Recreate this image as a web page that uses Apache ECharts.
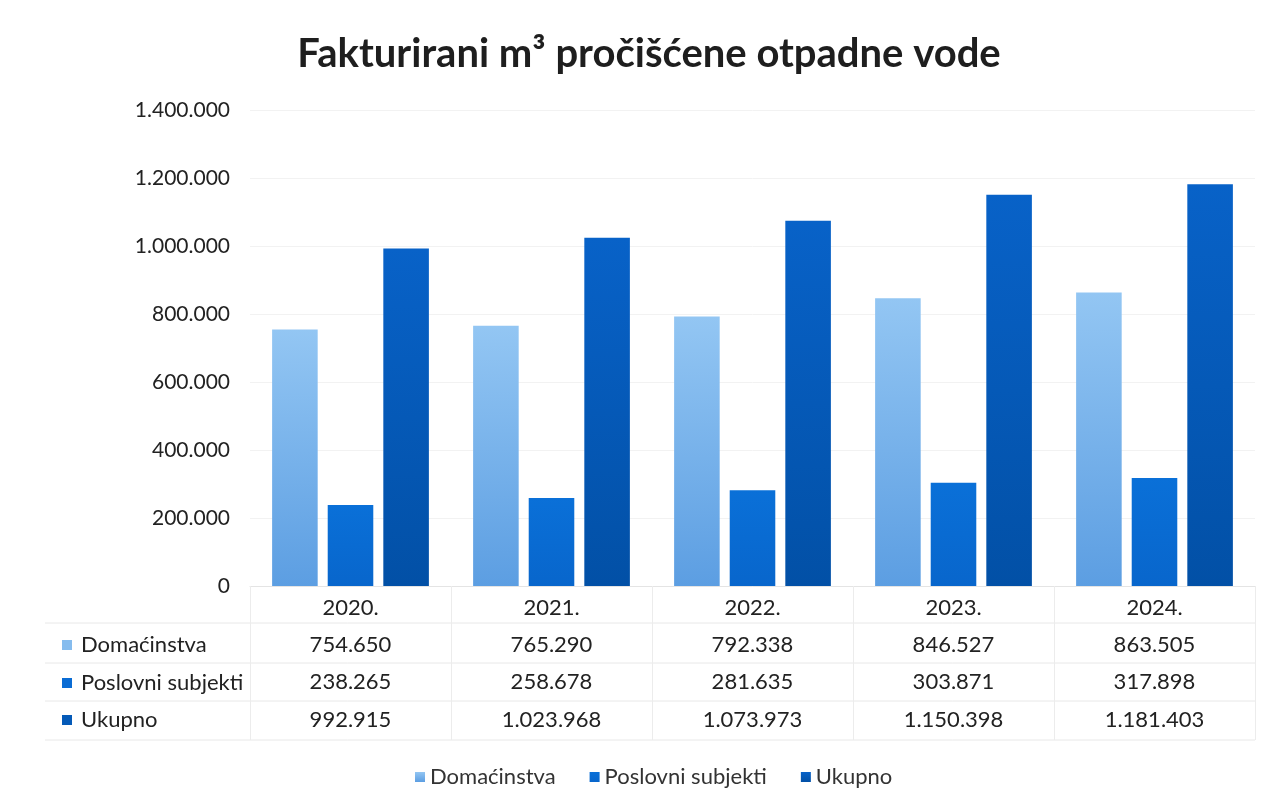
<!DOCTYPE html>
<html>
<head>
<meta charset="utf-8">
<script src="https://cdn.jsdelivr.net/npm/echarts@6/dist/echarts.min.js"></script>
<style>
  html, body { margin: 0; padding: 0; background: #fff; }
  #chart { width: 1275px; height: 809px; }
</style>
</head>
<body>
<div id="chart"></div>
<script>
  // podaci
  const years = ['2020.', '2021.', '2022.', '2023.', '2024.'];
  const domacinstva = [754650, 765290, 792338, 846527, 863505];
  const poslovni = [238265, 258678, 281635, 303871, 317898];
  const ukupno = [992915, 1023968, 1073973, 1150398, 1181403];
  const seriesNames = ['Domaćinstva', 'Poslovni subjekti', 'Ukupno'];

  const fontFam = 'Lato, "Open Sans", sans-serif';

  function fmt(v) {
    return String(v).replace(/\B(?=(\d{3})+(?!\d))/g, '.');
  }

  const colDom = new echarts.graphic.LinearGradient(0, 0, 0, 1, [
    { offset: 0, color: '#93c6f3' },
    { offset: 1, color: '#5c9ee2' }
  ]);
  const colPos = new echarts.graphic.LinearGradient(0, 0, 0, 1, [
    { offset: 0, color: '#0a70d8' },
    { offset: 1, color: '#0866cc' }
  ]);
  const colUk = new echarts.graphic.LinearGradient(0, 0, 0, 1, [
    { offset: 0, color: '#0862c8' },
    { offset: 1, color: '#0250a6' }
  ]);
  const rowColors = ['#86bcee', '#0a6cd4', '#055ab8'];

  const chart = echarts.init(document.getElementById('chart'));

  // red tablice ispod osi
  const rowY = [645, 683, 720];
  const tableGraphics = [];
  seriesNames.forEach((name, i) => {
    tableGraphics.push({
      type: 'rect',
      shape: { x: 62, y: rowY[i] - 5, width: 10, height: 10 },
      style: { fill: rowColors[i] }
    });
    tableGraphics.push({
      type: 'text',
      x: 81, y: rowY[i],
      style: { text: name, font: '22px ' + fontFam, fill: '#222', textVerticalAlign: 'middle' }
    });
  });
  [623, 663, 701, 740].forEach(y => {
    tableGraphics.push({
      type: 'line',
      shape: { x1: 45, y1: y, x2: 1255, y2: y },
      style: { stroke: '#e8e8e8', lineWidth: 1 }
    });
  });

  const option = {
    animation: false,
    textStyle: { fontFamily: fontFam },
    title: {
      text: 'Fakturirani m³ pročišćene otpadne vode',
      left: 644,
      textAlign: 'center',
      top: 29,
      textStyle: { fontSize: 40, fontWeight: 'bold', color: '#1e1e1e', fontFamily: fontFam }
    },
    legend: {
      bottom: 16,
      left: 410,
      itemWidth: 10,
      itemHeight: 10,
      itemGap: 34,
      icon: 'rect',
      textStyle: { fontSize: 22, color: '#333' },
      data: seriesNames
    },
    grid: { left: 250, right: 20, top: 110, bottom: 223 },
    xAxis: {
      type: 'category',
      data: years,
      axisLine: { lineStyle: { color: '#e4e4e4' } },
      axisTick: { show: true, length: 154, lineStyle: { color: '#ececec' } },
      axisLabel: {
        margin: 3,
        interval: 0,
        formatter: function (val, idx) {
          return '{y|' + val + '}\n{v|' + fmt(domacinstva[idx]) + '}\n{v|' +
            fmt(poslovni[idx]) + '}\n{v|' + fmt(ukupno[idx]) + '}';
        },
        rich: {
          y: { fontSize: 22, lineHeight: 37, color: '#222', fontFamily: fontFam },
          v: { fontSize: 22, lineHeight: 37.5, color: '#222', fontFamily: fontFam }
        }
      }
    },
    yAxis: {
      type: 'value',
      min: 0,
      max: 1400000,
      interval: 200000,
      axisLine: { show: false },
      axisTick: { show: false },
      splitLine: { lineStyle: { color: '#f2f2f2' } },
      axisLabel: {
        margin: 20,
        fontSize: 21,
        color: '#222',
        formatter: fmt
      }
    },
    series: [
      { name: seriesNames[0], type: 'bar', data: domacinstva, barGap: '22%', barCategoryGap: '22%', itemStyle: { color: colDom } },
      { name: seriesNames[1], type: 'bar', data: poslovni, itemStyle: { color: colPos } },
      { name: seriesNames[2], type: 'bar', data: ukupno, itemStyle: { color: colUk } }
    ],
    graphic: tableGraphics
  };

  chart.setOption(option);
</script>
</body>
</html>
